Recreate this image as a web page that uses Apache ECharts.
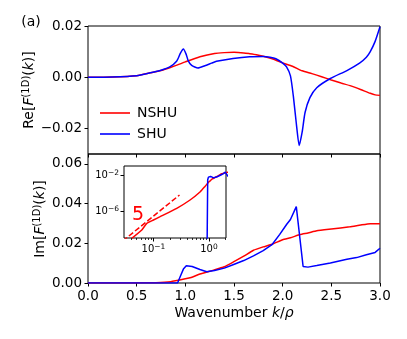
<!DOCTYPE html>
<html><head><meta charset="utf-8">
<script src="https://cdn.jsdelivr.net/npm/echarts@6/dist/echarts.min.js"></script>
<style>html,body{margin:0;padding:0;background:#fff}#c{width:407px;height:339px}</style>
</head><body><div id="c"></div>
<script>
// ---- data ----
const reK_nshu = [0, 0.25, 0.5, 0.64, 0.75, 0.84, 0.92, 1.0, 1.15, 1.3, 1.4, 1.5, 1.6, 1.66, 1.73, 1.8, 1.9, 2.0, 2.1, 2.2, 2.3, 2.4, 2.5, 2.6, 2.7, 2.8, 2.9, 2.95, 3.0];
const re_nshu = [0, 0.0001, 0.0006, 0.0017, 0.0026, 0.0037, 0.0048, 0.006, 0.008, 0.0093, 0.0096, 0.0097, 0.0095, 0.0092, 0.0088, 0.0082, 0.0071, 0.0056, 0.0043, 0.0025, 0.0014, 0.0002, -0.0011, -0.0023, -0.0034, -0.0048, -0.0063, -0.0069, -0.0071];
const reK_shu = [0, 0.25, 0.5, 0.64, 0.75, 0.84, 0.91, 0.95, 0.98, 1.01, 1.03, 1.065, 1.13, 1.2, 1.27, 1.32, 1.49, 1.66, 1.8, 1.87, 1.93, 2.0, 2.04, 2.08, 2.11, 2.14, 2.17, 2.2, 2.23, 2.28, 2.35, 2.49, 2.66, 2.79, 2.86, 2.9, 2.95, 3.0];
const re_shu = [0, 0.0001, 0.0006, 0.0017, 0.0027, 0.004, 0.0062, 0.0094, 0.011, 0.0088, 0.0064, 0.0046, 0.0036, 0.0045, 0.0055, 0.0062, 0.0073, 0.008, 0.0081, 0.0078, 0.0072, 0.0055, 0.004, 0.0005, -0.0075, -0.018, -0.0267, -0.0215, -0.0138, -0.008, -0.0041, -0.0005, 0.0026, 0.0055, 0.0078, 0.01, 0.014, 0.0197];
const imK_nshu = [0, 0.0407, 0.0617, 0.0759, 0.1, 0.132, 0.263, 0.457, 0.698, 0.85, 1.0, 1.06, 1.15, 1.29, 1.4, 1.49, 1.6, 1.7, 1.8, 1.89, 2.0, 2.08, 2.18, 2.26, 2.35, 2.5, 2.69, 2.8, 2.9, 3.0];
const im_nshu = [0, 1.1e-9, 9.3e-9, 5.1e-8, 1.2e-7, 2.8e-7, 2.4e-6, 2.0e-5, 1.66e-4, 6.5e-4, 0.0021, 0.0028, 0.0045, 0.0065, 0.0082, 0.0105, 0.0135, 0.0165, 0.0182, 0.0195, 0.0218, 0.0228, 0.0244, 0.0252, 0.0263, 0.0272, 0.0283, 0.0292, 0.0299, 0.0298];
const imK_shu = [0, 0.92, 0.95, 0.98, 1.01, 1.07, 1.15, 1.22, 1.3, 1.4, 1.49, 1.6, 1.7, 1.8, 1.89, 1.97, 2.04, 2.08, 2.14, 2.21, 2.26, 2.35, 2.49, 2.66, 2.76, 2.86, 2.95, 3.0];
const im_shu = [0, 1e-12, 0.0035, 0.007, 0.0087, 0.0083, 0.0068, 0.0057, 0.0063, 0.0075, 0.0092, 0.0113, 0.0137, 0.0163, 0.0193, 0.0245, 0.0295, 0.032, 0.0385, 0.0083, 0.008, 0.0088, 0.0101, 0.012, 0.0128, 0.0142, 0.0154, 0.0175];
const slopeK = [0.028, 0.295];
const slopeV = [5.6e-10, 7.2e-5];
const reTicks = [-0.02, 0, 0.02];
const imTicks = [0, 0.02, 0.04, 0.06];
const insetXTicks = [0.1, 1];
const insetXMinor = [0.04, 0.05, 0.06, 0.07, 0.08, 0.09, 0.2, 0.3, 0.4, 0.5, 0.6, 0.7, 0.8, 0.9, 2];
const insetYTicks = [1e-6, 1e-2];

const FF = 'DejaVu Sans';
const RED = '#ff0000', BLUE = '#0000ff';
const pairs = (k, v) => k.map((x, i) => [x, v[i]]);
const posPairs = (k, v) => pairs(k, v).filter(p => p[0] > 0 && p[1] > 0);
const tickStyle = { color: '#000', width: 1 };
const lbl = { color: '#000', fontFamily: FF, fontSize: 13.5 };
const powRich = {
  b: { fontFamily: FF, fontSize: 10, color: '#000' },
  s: { fontFamily: FF, fontSize: 7.5, color: '#000', verticalAlign: 'top', padding: [0, 0, 5, 0] }
};
const powFmt = v => { const e = Math.round(Math.log10(v)); return '{b|10}{s|' + (e < 0 ? '\u2212' : '') + Math.abs(e) + '}'; };

const chart = echarts.init(document.getElementById('c'), null, { renderer: 'canvas' });
const lineS = (name, k, v, color, xi, yi, smooth) => ({
  name, type: 'line', xAxisIndex: xi, yAxisIndex: yi, data: pairs(k, v),
  symbol: 'none', smooth: smooth, color, lineStyle: { color, width: 1.5 }, clip: true, animation: false
});
const axisLabelRich = {
  n: { fontFamily: FF, fontSize: 14, color: '#000' },
  i: { fontFamily: FF, fontSize: 14, fontStyle: 'italic', color: '#000' },
  s: { fontFamily: FF, fontSize: 10, color: '#000', verticalAlign: 'top', padding: [0, 0, 6, 0] }
};
const noLine = { show: false, onZero: false };

chart.setOption({
  animation: false,
  backgroundColor: '#fff',
  grid: [
    { left: 88, top: 26, width: 292, height: 128, show: true, borderColor: '#000', borderWidth: 1, backgroundColor: 'transparent' },
    { left: 88, top: 154, width: 292, height: 129, show: true, borderColor: '#000', borderWidth: 1, backgroundColor: 'transparent' },
    { left: 124, top: 166, width: 102, height: 72, show: true, borderColor: '#000', borderWidth: 1, backgroundColor: '#fff' }
  ],
  legend: {
    data: ['NSHU', 'SHU'], orient: 'vertical', left: 100, top: 106, padding: 0,
    icon: 'rect', itemWidth: 30, itemHeight: 1.6, itemGap: 7,
    textStyle: { fontFamily: FF, fontSize: 14, color: '#000', lineHeight: 14, padding: [0, 0, 0, 2] },
    selectedMode: false
  },
  xAxis: [
    { type: 'value', gridIndex: 0, position: 'bottom', min: 0, max: 3, interval: 0.5, axisLine: noLine, splitLine: { show: false },
      axisTick: { show: true, length: 3.5, lineStyle: tickStyle }, axisLabel: { show: false } },
    { type: 'value', gridIndex: 1, position: 'bottom', min: 0, max: 3, interval: 0.5, axisLine: noLine, splitLine: { show: false },
      axisTick: { show: true, length: 3.5, lineStyle: tickStyle },
      axisLabel: Object.assign({ margin: 6, formatter: v => v.toFixed(1) }, lbl) },
    { type: 'log', logBase: 10, gridIndex: 2, position: 'bottom', min: 0.0295, max: 2.03, axisLine: noLine, splitLine: { show: false },
      axisTick: { show: true, length: 3.5, lineStyle: tickStyle, customValues: insetXTicks },
      axisLabel: { margin: 5, customValues: insetXTicks, formatter: powFmt, rich: powRich } },
    // minor ticks of the inset x axis: a second axis on the same scale, shifted down onto the bottom edge
    { type: 'log', logBase: 10, gridIndex: 2, position: 'top', offset: -72, min: 0.0295, max: 2.03, axisLine: noLine, splitLine: { show: false },
      axisTick: { show: true, inside: true, length: 2, lineStyle: { color: '#000', width: 0.8 }, customValues: insetXMinor },
      axisLabel: { show: false } }
  ],
  yAxis: [
    { type: 'value', gridIndex: 0, position: 'left', min: -0.03, max: 0.02, axisLine: noLine, splitLine: { show: false },
      axisTick: { show: true, length: 3.5, lineStyle: tickStyle, customValues: reTicks },
      axisLabel: Object.assign({ margin: 6, customValues: reTicks, formatter: v => (v < 0 ? '\u2212' : '') + Math.abs(v).toFixed(2) }, lbl) },
    { type: 'value', gridIndex: 1, position: 'left', min: 0, max: 0.065, axisLine: noLine, splitLine: { show: false },
      axisTick: { show: true, length: 3.5, lineStyle: tickStyle, customValues: imTicks },
      axisLabel: Object.assign({ margin: 6, customValues: imTicks, formatter: v => v.toFixed(2) }, lbl) },
    { type: 'log', logBase: 10, gridIndex: 2, position: 'left', min: 1.2e-9, max: 0.12, axisLine: noLine, splitLine: { show: false },
      axisTick: { show: true, length: 3.5, lineStyle: tickStyle, customValues: insetYTicks },
      axisLabel: { margin: 5, customValues: insetYTicks, formatter: powFmt, rich: powRich } }
  ],
  series: [
    lineS('NSHU', reK_nshu, re_nshu, RED, 0, 0, 0.2),
    lineS('SHU', reK_shu, re_shu, BLUE, 0, 0, 0.2),
    lineS('NSHU', imK_nshu, im_nshu, RED, 1, 1, 0.15),
    lineS('SHU', imK_shu, im_shu, BLUE, 1, 1, false),
    Object.assign(lineS('NSHU', [], [], RED, 2, 2, 0.15), { data: posPairs(imK_nshu, im_nshu), z: 5 }),
    Object.assign(lineS('SHU', [], [], BLUE, 2, 2, false), { data: posPairs(imK_shu, im_shu), z: 5 }),
    Object.assign(lineS('slope', slopeK, slopeV, RED, 2, 2, false), { lineStyle: { color: RED, width: 1.5, type: [5.5, 2.4] }, z: 5 })
  ],
  graphic: [
    { type: 'text', x: 31, y: 22, style: { text: '(a)', fontFamily: FF, fontSize: 14, fill: '#000', align: 'center', verticalAlign: 'middle' } },
    { type: 'text', x: 29, y: 90, rotation: Math.PI / 2,
      style: { text: '{n|Re[}{i|F}{s|(1D)}{n|(}{i|k}{n|)]}', rich: axisLabelRich, align: 'center', verticalAlign: 'middle' } },
    { type: 'text', x: 40, y: 219, rotation: Math.PI / 2,
      style: { text: '{n|Im[}{i|F}{s|(1D)}{n|(}{i|k}{n|)]}', rich: axisLabelRich, align: 'center', verticalAlign: 'middle' } },
    { type: 'text', x: 234, y: 313,
      style: { text: '{n|Wavenumber }{i|k}{n|/}{i|\u03c1}', rich: axisLabelRich, align: 'center', verticalAlign: 'middle' } },
    { type: 'text', x: 138, y: 215, z: 10, style: { text: '5', fontFamily: FF, fontSize: 19, fill: RED, align: 'center', verticalAlign: 'middle' } }
  ]
});
</script></body></html>
